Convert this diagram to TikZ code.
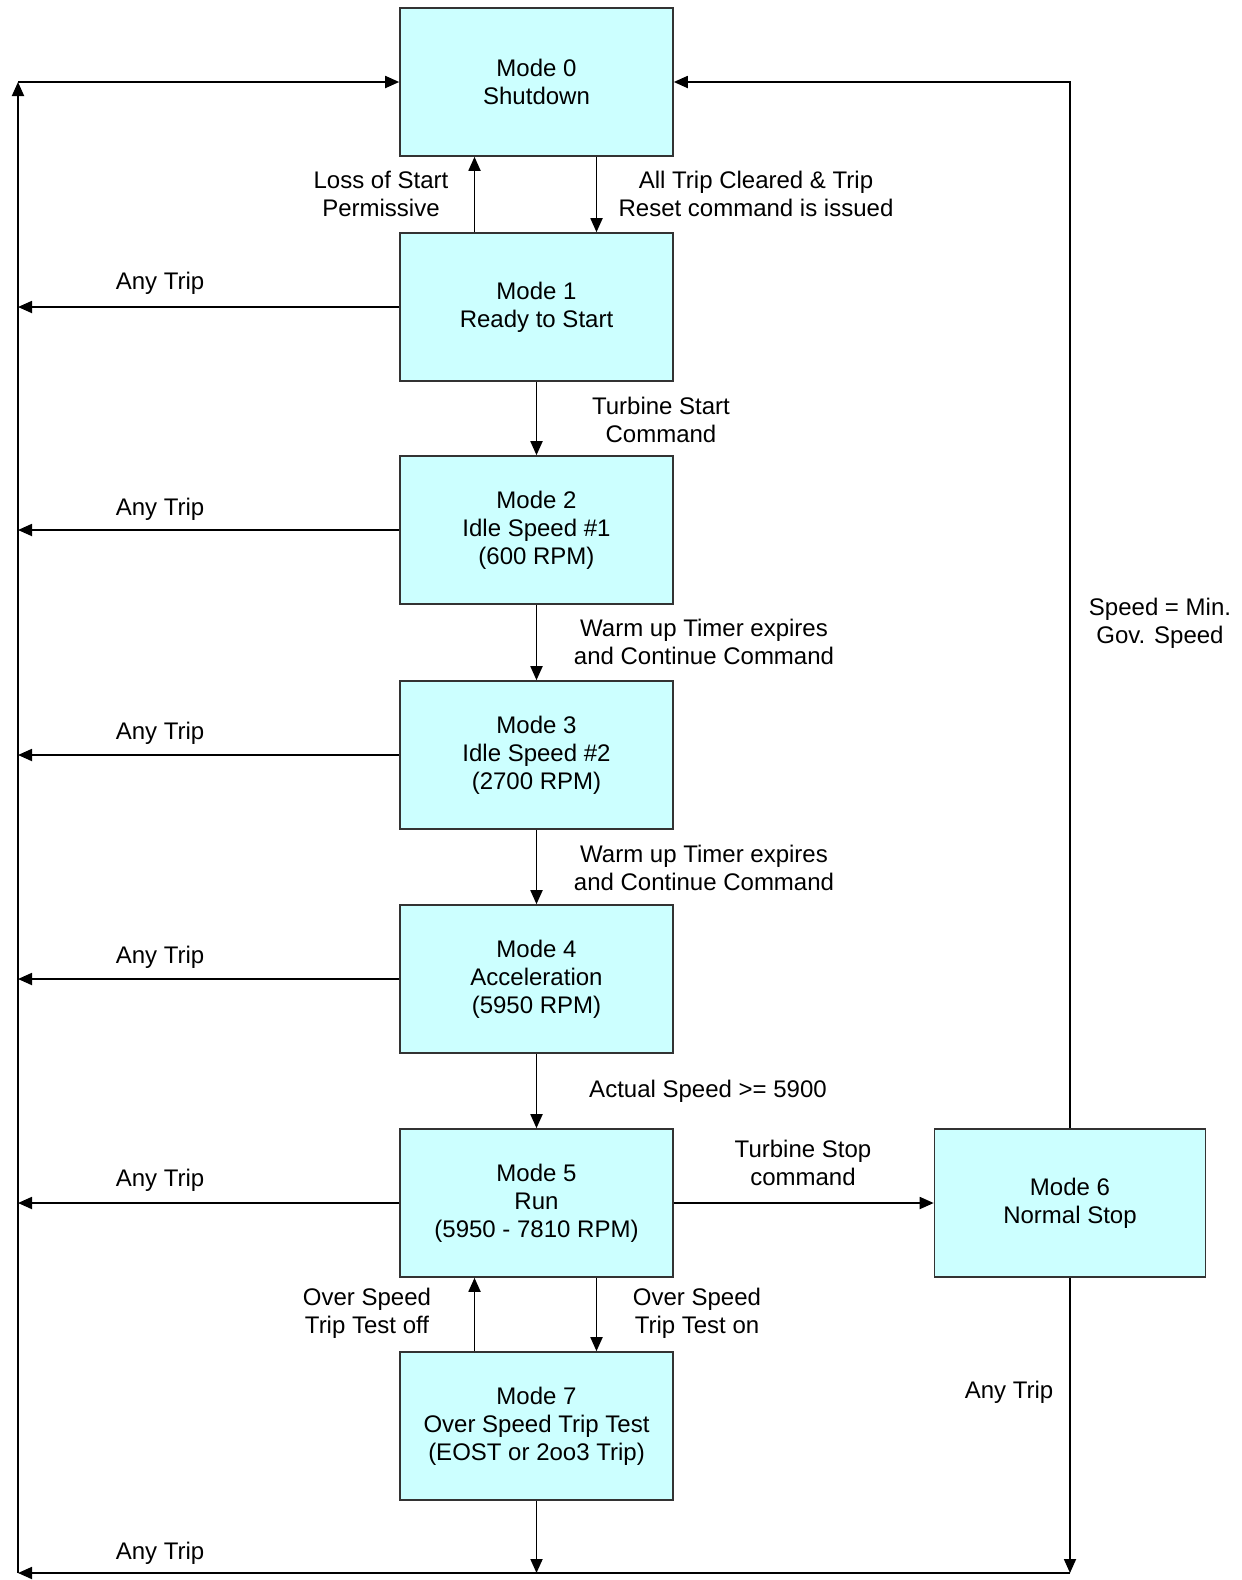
\documentclass[tikz,border=0pt]{standalone}
\usepackage{fontspec}
\setmainfont{Liberation Sans}
\usetikzlibrary{arrows.meta}
\definecolor{modefill}{RGB}{204,255,255}
\tikzset{
  modebox/.style={draw=black!80, fill=modefill, line width=0.8pt,
    minimum width=136.5pt, minimum height=74pt, align=center},
  flow/.style={line width=0.9pt, -{Triangle[length=7pt,width=6pt]}},
  lbl/.style={align=center}
}
\begin{document}
\begin{tikzpicture}[x=0.5pt, y=-0.5pt, font=\fontsize{12}{14}\selectfont]
  \useasboundingbox (0,0) rectangle (1242,1580);
  \def\cx{536.5}
  % mode boxes
  \node[modebox] (m0) at (\cx,82) {Mode 0\\Shutdown};
  \node[modebox] (m1) at (\cx,307) {Mode 1\\Ready to Start};
  \node[modebox] (m2) at (\cx,530) {Mode 2\\Idle Speed \#1\\(600 RPM)};
  \node[modebox] (m3) at (\cx,755) {Mode 3\\Idle Speed \#2\\(2700 RPM)};
  \node[modebox] (m4) at (\cx,979) {Mode 4\\Acceleration\\(5950 RPM)};
  \node[modebox] (m5) at (\cx,1203) {Mode 5\\Run\\(5950 - 7810 RPM)};
  \node[modebox] (m7) at (\cx,1426) {Mode 7\\Over Speed Trip Test\\(EOST or 2oo3 Trip)};
  \node[modebox, minimum width=135.5pt] (m6) at (1070,1203) {Mode 6\\Normal Stop};

  % corners of the outer loop
  \coordinate (lt) at (18,82);
  \coordinate (lb) at (18,1573);
  \coordinate (rt) at (1070,82);
  \coordinate (rb) at (1070,1573);

  % main sequence
  \draw[flow] ([xshift=-31pt]m1.north) -- ([xshift=-31pt]m0.south);
  \draw[flow] ([xshift=30pt]m0.south) -- ([xshift=30pt]m1.north);
  \draw[flow] (m1.south) -- (m2.north);
  \draw[flow] (m2.south) -- (m3.north);
  \draw[flow] (m3.south) -- (m4.north);
  \draw[flow] (m4.south) -- (m5.north);
  \draw[flow] (m5.east) -- (m6.west);
  \draw[flow] ([xshift=30pt]m5.south) -- ([xshift=30pt]m7.north);
  \draw[flow] ([xshift=-31pt]m7.north) -- ([xshift=-31pt]m5.south);

  % trips back to shutdown
  \foreach \m in {m1,m2,m3,m4,m5}
    \draw[flow] (\m.west) -- (\m.west -| lt);
  \draw[flow] (m7.south) -- (m7.south |- lb);
  \draw[flow] (m6.south) -- (rb);
  \draw[flow] (rb) -- (lb);
  \draw[flow] (lb) -- (lt);
  \draw[flow] (lt) -- (m0.west);
  \draw[flow] (m6.north) -- (rt) -- (m0.east);

  % labels
  \node[lbl] (lossperm) at (381,194) {Loss of Start\\Permissive};
  \node[lbl] (tripreset) at (756,194) {All Trip Cleared \& Trip\\Reset command is issued};
  \node[lbl] (startcmd) at (661,420) {Turbine Start\\Command};
  \node[lbl] (warmup1) at (704,642) {Warm up Timer expires\\and Continue Command};
  \node[lbl] (warmup2) at (704,868) {Warm up Timer expires\\and Continue Command};
  \node[lbl] (actspeed) at (708,1091) {Actual Speed >= 5900};
  \node[lbl] (stopcmd) at (803,1163) {Turbine Stop\\command};
  \node[lbl] (ostoff) at (367,1313) {Over Speed\\Trip Test off};
  \node[lbl] (oston) at (697,1313) {Over Speed\\Trip Test on};
  \node[lbl] (minspeed) at (1160,623) {Speed = Min.\\Gov. Speed};
  \node[lbl] (trip6) at (1009,1392) {Any Trip};
  \node[lbl] (trip1) at (160,283) {Any Trip};
  \node[lbl] (trip2) at (160,509) {Any Trip};
  \node[lbl] (trip3) at (160,733) {Any Trip};
  \node[lbl] (trip4) at (160,957) {Any Trip};
  \node[lbl] (trip5) at (160,1180) {Any Trip};
  \node[lbl] (trip7) at (160,1553) {Any Trip};
\end{tikzpicture}
\end{document}
